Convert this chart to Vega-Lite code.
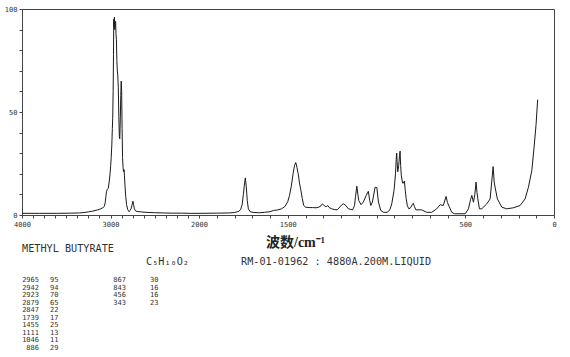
{
  "$schema": "https://vega.github.io/schema/vega-lite/v6.json",
  "padding": {"left": 3, "top": 4, "right": 5, "bottom": 2},
  "background": "white",
  "bounds": "flush",
  "spacing": 26,
  "config": {"view": {"stroke": null}, "font": "DejaVu Sans Mono"},
  "datasets": {
    "spectrum": [
      {"wn": 4000, "intensity": 0.8}, {"wn": 3800, "intensity": 0.8}, {"wn": 3600, "intensity": 0.8},
      {"wn": 3450, "intensity": 0.9}, {"wn": 3350, "intensity": 1.0}, {"wn": 3300, "intensity": 1.2},
      {"wn": 3250, "intensity": 1.5}, {"wn": 3200, "intensity": 1.9}, {"wn": 3145, "intensity": 2.5},
      {"wn": 3110, "intensity": 3.0}, {"wn": 3085, "intensity": 3.6}, {"wn": 3070, "intensity": 4.2},
      {"wn": 3060, "intensity": 6}, {"wn": 3052, "intensity": 9}, {"wn": 3045, "intensity": 11.5},
      {"wn": 3035, "intensity": 12.5}, {"wn": 3025, "intensity": 13}, {"wn": 3015, "intensity": 16},
      {"wn": 3005, "intensity": 20}, {"wn": 2998, "intensity": 24}, {"wn": 2992, "intensity": 28},
      {"wn": 2985, "intensity": 34}, {"wn": 2979, "intensity": 42}, {"wn": 2975, "intensity": 47},
      {"wn": 2970, "intensity": 60}, {"wn": 2966, "intensity": 78}, {"wn": 2963, "intensity": 95},
      {"wn": 2960, "intensity": 91}, {"wn": 2956, "intensity": 96}, {"wn": 2952, "intensity": 90},
      {"wn": 2948, "intensity": 93}, {"wn": 2942, "intensity": 94}, {"wn": 2938, "intensity": 88},
      {"wn": 2933, "intensity": 85}, {"wn": 2928, "intensity": 75}, {"wn": 2923, "intensity": 70},
      {"wn": 2918, "intensity": 68}, {"wn": 2912, "intensity": 62}, {"wn": 2906, "intensity": 48},
      {"wn": 2900, "intensity": 38}, {"wn": 2895, "intensity": 37}, {"wn": 2889, "intensity": 47},
      {"wn": 2884, "intensity": 58}, {"wn": 2879, "intensity": 65}, {"wn": 2874, "intensity": 60},
      {"wn": 2869, "intensity": 42}, {"wn": 2864, "intensity": 28}, {"wn": 2858, "intensity": 23},
      {"wn": 2852, "intensity": 21}, {"wn": 2847, "intensity": 22}, {"wn": 2842, "intensity": 19},
      {"wn": 2836, "intensity": 14}, {"wn": 2828, "intensity": 9}, {"wn": 2818, "intensity": 5},
      {"wn": 2805, "intensity": 2.6}, {"wn": 2790, "intensity": 1.6}, {"wn": 2778, "intensity": 2.2},
      {"wn": 2768, "intensity": 3}, {"wn": 2757, "intensity": 4.8}, {"wn": 2746, "intensity": 6.7},
      {"wn": 2739, "intensity": 5}, {"wn": 2730, "intensity": 3}, {"wn": 2718, "intensity": 2},
      {"wn": 2700, "intensity": 1.7}, {"wn": 2650, "intensity": 1.5}, {"wn": 2600, "intensity": 1.3},
      {"wn": 2500, "intensity": 1.1}, {"wn": 2400, "intensity": 1.0}, {"wn": 2300, "intensity": 0.9},
      {"wn": 2200, "intensity": 0.9}, {"wn": 2100, "intensity": 0.8}, {"wn": 2000, "intensity": 0.8},
      {"wn": 1900, "intensity": 0.9}, {"wn": 1830, "intensity": 1.0}, {"wn": 1800, "intensity": 1.2},
      {"wn": 1775, "intensity": 1.8}, {"wn": 1765, "intensity": 2.8}, {"wn": 1757, "intensity": 5},
      {"wn": 1750, "intensity": 10}, {"wn": 1745, "intensity": 14}, {"wn": 1739, "intensity": 18},
      {"wn": 1734, "intensity": 14}, {"wn": 1728, "intensity": 7}, {"wn": 1722, "intensity": 3},
      {"wn": 1712, "intensity": 1.6}, {"wn": 1690, "intensity": 1.2}, {"wn": 1660, "intensity": 1.1},
      {"wn": 1630, "intensity": 1.3}, {"wn": 1600, "intensity": 1.6}, {"wn": 1580, "intensity": 2.2},
      {"wn": 1560, "intensity": 2.4}, {"wn": 1535, "intensity": 3}, {"wn": 1515, "intensity": 4.2},
      {"wn": 1500, "intensity": 6.5}, {"wn": 1490, "intensity": 9.5}, {"wn": 1480, "intensity": 14},
      {"wn": 1470, "intensity": 20}, {"wn": 1462, "intensity": 24}, {"wn": 1455, "intensity": 25.5},
      {"wn": 1448, "intensity": 23}, {"wn": 1441, "intensity": 20}, {"wn": 1434, "intensity": 15.5},
      {"wn": 1426, "intensity": 12}, {"wn": 1418, "intensity": 8}, {"wn": 1410, "intensity": 4.6},
      {"wn": 1400, "intensity": 3.8}, {"wn": 1380, "intensity": 3.6}, {"wn": 1360, "intensity": 3.6},
      {"wn": 1340, "intensity": 3.5}, {"wn": 1325, "intensity": 3.8}, {"wn": 1312, "intensity": 4.5},
      {"wn": 1305, "intensity": 5.4}, {"wn": 1295, "intensity": 4.6}, {"wn": 1284, "intensity": 4},
      {"wn": 1275, "intensity": 4.6}, {"wn": 1265, "intensity": 3.5}, {"wn": 1252, "intensity": 3},
      {"wn": 1235, "intensity": 2.6}, {"wn": 1222, "intensity": 2.5}, {"wn": 1205, "intensity": 4},
      {"wn": 1195, "intensity": 5}, {"wn": 1186, "intensity": 5.4}, {"wn": 1175, "intensity": 4.8},
      {"wn": 1158, "intensity": 3}, {"wn": 1135, "intensity": 2.5}, {"wn": 1124, "intensity": 4.5},
      {"wn": 1118, "intensity": 9}, {"wn": 1111, "intensity": 14}, {"wn": 1105, "intensity": 10},
      {"wn": 1100, "intensity": 7}, {"wn": 1087, "intensity": 5}, {"wn": 1074, "intensity": 6.3},
      {"wn": 1058, "intensity": 9.5}, {"wn": 1046, "intensity": 11.5}, {"wn": 1038, "intensity": 7},
      {"wn": 1032, "intensity": 4.6}, {"wn": 1023, "intensity": 6.3}, {"wn": 1008, "intensity": 13.5},
      {"wn": 998, "intensity": 13.3}, {"wn": 989, "intensity": 6.3}, {"wn": 976, "intensity": 2.2},
      {"wn": 960, "intensity": 1.3}, {"wn": 940, "intensity": 1.3}, {"wn": 925, "intensity": 2.5},
      {"wn": 914, "intensity": 5.4}, {"wn": 901, "intensity": 12}, {"wn": 893, "intensity": 20},
      {"wn": 889, "intensity": 27}, {"wn": 886, "intensity": 30}, {"wn": 884, "intensity": 26},
      {"wn": 880, "intensity": 21}, {"wn": 875, "intensity": 24}, {"wn": 870, "intensity": 29},
      {"wn": 867, "intensity": 31}, {"wn": 864, "intensity": 24}, {"wn": 860, "intensity": 19},
      {"wn": 853, "intensity": 15.5}, {"wn": 848, "intensity": 15.5}, {"wn": 843, "intensity": 16.5},
      {"wn": 838, "intensity": 12}, {"wn": 833, "intensity": 8}, {"wn": 826, "intensity": 4.5},
      {"wn": 818, "intensity": 3}, {"wn": 808, "intensity": 3.5}, {"wn": 799, "intensity": 5},
      {"wn": 793, "intensity": 5.7}, {"wn": 786, "intensity": 4}, {"wn": 778, "intensity": 2.5},
      {"wn": 746, "intensity": 2.5}, {"wn": 717, "intensity": 1.3}, {"wn": 689, "intensity": 1.3},
      {"wn": 661, "intensity": 3}, {"wn": 641, "intensity": 5}, {"wn": 624, "intensity": 4.6},
      {"wn": 608, "intensity": 9}, {"wn": 600, "intensity": 6}, {"wn": 590, "intensity": 4},
      {"wn": 576, "intensity": 1.3}, {"wn": 560, "intensity": 0.6}, {"wn": 500, "intensity": 0.6},
      {"wn": 482, "intensity": 3}, {"wn": 470, "intensity": 7.5}, {"wn": 463, "intensity": 9.5},
      {"wn": 454, "intensity": 6.2}, {"wn": 446, "intensity": 10}, {"wn": 439, "intensity": 16},
      {"wn": 434, "intensity": 11}, {"wn": 429, "intensity": 7.8}, {"wn": 420, "intensity": 3},
      {"wn": 407, "intensity": 3}, {"wn": 379, "intensity": 5.4}, {"wn": 360, "intensity": 7.8},
      {"wn": 350, "intensity": 17}, {"wn": 343, "intensity": 23.5}, {"wn": 337, "intensity": 16},
      {"wn": 332, "intensity": 13.5}, {"wn": 319, "intensity": 7.8}, {"wn": 294, "intensity": 3.8},
      {"wn": 266, "intensity": 3}, {"wn": 229, "intensity": 3.5}, {"wn": 191, "intensity": 4.6},
      {"wn": 163, "intensity": 7.8}, {"wn": 144, "intensity": 13.5}, {"wn": 125, "intensity": 21.6},
      {"wn": 112, "intensity": 33}, {"wn": 101, "intensity": 44}, {"wn": 92, "intensity": 56}
    ],
    "headers": [
      {"text": "METHYL BUTYRATE", "col": 1, "line": 1},
      {"text": "C₅H₁₀O₂", "col": 2, "line": 2},
      {"text": "RM-01-01962 : 4880A.200M.LIQUID", "col": 3, "line": 2}
    ],
    "peaks": [
      {"wn": 2965, "int": 95, "col": 1, "row": 1},
      {"wn": 2942, "int": 94, "col": 1, "row": 2},
      {"wn": 2923, "int": 70, "col": 1, "row": 3},
      {"wn": 2879, "int": 65, "col": 1, "row": 4},
      {"wn": 2847, "int": 22, "col": 1, "row": 5},
      {"wn": 1739, "int": 17, "col": 1, "row": 6},
      {"wn": 1455, "int": 25, "col": 1, "row": 7},
      {"wn": 1111, "int": 13, "col": 1, "row": 8},
      {"wn": 1046, "int": 11, "col": 1, "row": 9},
      {"wn": 886, "int": 29, "col": 1, "row": 10},
      {"wn": 867, "int": 30, "col": 2, "row": 1},
      {"wn": 843, "int": 16, "col": 2, "row": 2},
      {"wn": 456, "int": 16, "col": 2, "row": 3},
      {"wn": 343, "int": 23, "col": 2, "row": 4}
    ]
  },
  "vconcat": [
    {
      "width": 532,
      "height": 206,
      "view": {"stroke": "#444", "strokeWidth": 1},
      "data": {"name": "spectrum"},
      "mark": {"type": "line", "color": "#1a1a1a", "strokeWidth": 1, "interpolate": "linear"},
      "encoding": {
        "x": {
          "field": "wn",
          "type": "quantitative",
          "scale": {"domain": [4000, 2000, 0], "range": [0, 177, 532], "nice": false, "zero": false},
          "axis": {
            "values": [4000, 3875, 3750, 3625, 3500, 3375, 3250, 3125, 3000, 2875, 2750, 2625, 2500, 2375, 2250, 2125, 2000, 1900, 1800, 1700, 1600, 1500, 1400, 1300, 1200, 1100, 1000, 900, 800, 700, 600, 500, 400, 300, 200, 100, 0],
            "labelExpr": "indexof([4000,3000,2000,1500,500,0], datum.value) >= 0 ? datum.value : ''",
            "labelOverlap": false,
            "labelFlush": false,
            "labelFontSize": 7,
            "labelFont": "DejaVu Sans Mono",
            "labelColor": "#333",
            "labelPadding": 2,
            "tickSize": 3,
            "tickColor": "#444",
            "domainColor": "#444",
            "grid": false,
            "title": "波数/cm⁻¹",
            "titleFont": "Liberation Serif, Noto Sans CJK SC",
            "titleFontSize": 14,
            "titleFontWeight": "bold",
            "titleColor": "#222",
            "titleX": 273,
            "titleY": 27,
            "titleBaseline": "middle"
          }
        },
        "y": {
          "field": "intensity",
          "type": "quantitative",
          "scale": {"domain": [0, 100], "nice": false},
          "axis": {
            "values": [0, 10, 20, 30, 40, 50, 60, 70, 80, 90, 100],
            "labelExpr": "datum.value % 50 === 0 ? datum.value : ''",
            "labelOverlap": false,
            "labelFlush": false,
            "labelFontSize": 7,
            "labelFont": "DejaVu Sans Mono",
            "labelColor": "#333",
            "labelPadding": 2,
            "tickSize": 3,
            "tickColor": "#444",
            "domainColor": "#444",
            "grid": false,
            "title": null
          }
        }
      }
    },
    {
      "width": 532,
      "height": 112,
      "layer": [
        {
          "data": {"name": "headers"},
          "mark": {"type": "text", "align": "left", "baseline": "middle", "fontSize": 10.2, "font": "DejaVu Sans Mono", "color": "#333"},
          "encoding": {
            "x": {"field": "col", "type": "quantitative", "scale": {"domain": [1, 2, 3], "range": [0, 124, 219]}, "axis": null},
            "y": {"field": "line", "type": "quantitative", "scale": {"domain": [1, 2], "range": [8, 21]}, "axis": null},
            "text": {"field": "text"}
          }
        },
        {
          "data": {"name": "peaks"},
          "mark": {"type": "text", "align": "right", "baseline": "middle", "fontSize": 7, "font": "DejaVu Sans Mono", "color": "#333"},
          "encoding": {
            "x": {"field": "col", "type": "quantitative", "scale": {"domain": [1, 2], "range": [17, 104]}, "axis": null},
            "y": {"field": "row", "type": "quantitative", "scale": {"domain": [1, 10], "range": [39, 107]}, "axis": null},
            "text": {"field": "wn"}
          }
        },
        {
          "data": {"name": "peaks"},
          "mark": {"type": "text", "align": "left", "baseline": "middle", "fontSize": 7, "font": "DejaVu Sans Mono", "color": "#333"},
          "encoding": {
            "x": {"field": "col", "type": "quantitative", "scale": {"domain": [1, 2], "range": [28, 128]}, "axis": null},
            "y": {"field": "row", "type": "quantitative", "scale": {"domain": [1, 10], "range": [39, 107]}, "axis": null},
            "text": {"field": "int"}
          }
        }
      ],
      "resolve": {"scale": {"x": "independent", "y": "independent"}}
    }
  ]
}
